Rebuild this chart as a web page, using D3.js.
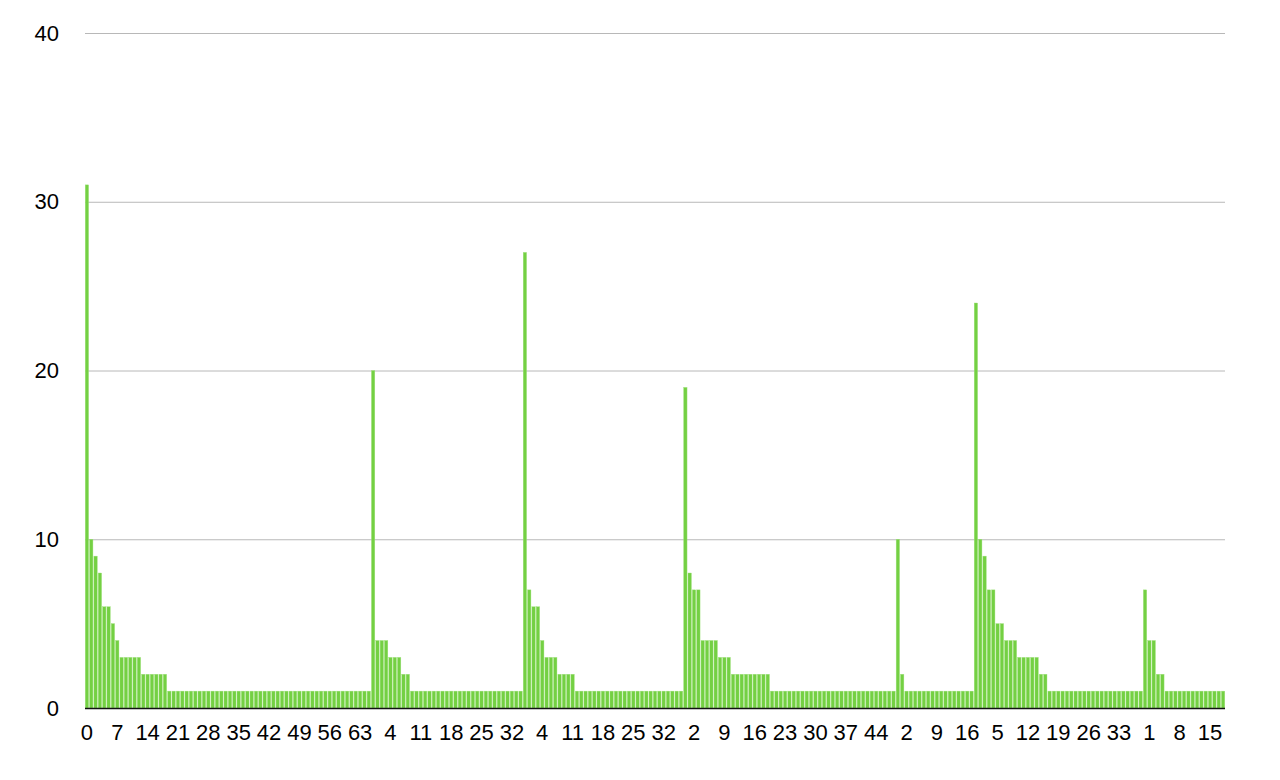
<!DOCTYPE html>
<html>
<head>
<meta charset="utf-8">
<script src="https://cdn.jsdelivr.net/npm/d3@7/dist/d3.min.js"></script>
<style>
  html, body { margin: 0; padding: 0; background: #ffffff; }
  svg { display: block; }
  text { font-family: "Liberation Sans", Arial, Helvetica, sans-serif; fill: #000; }
</style>
</head>
<body>
<svg id="chart" width="1280" height="780"></svg>
<script>
// ---- data: one array of values per group; category label = position within its group ----
const group1 = [31,10,9,8,6,6,5,4,3,3,
                3,3,3,2,2,2,2,2,2,1,
                1,1,1,1,1,1,1,1,1,1,
                1,1,1,1,1,1,1,1,1,1,
                1,1,1,1,1,1,1,1,1,1,
                1,1,1,1,1,1,1,1,1,1,
                1,1,1,1,1,1];
const group2 = [20,4,4,4,3,3,3,2,2,1,
                1,1,1,1,1,1,1,1,1,1,
                1,1,1,1,1,1,1,1,1,1,
                1,1,1,1,1];
const group3 = [27,7,6,6,4,3,3,3,2,2,
                2,2,1,1,1,1,1,1,1,1,
                1,1,1,1,1,1,1,1,1,1,
                1,1,1,1,1,1,1];
const group4 = [19,8,7,7,4,4,4,4,3,3,
                3,2,2,2,2,2,2,2,2,2,
                1,1,1,1,1,1,1,1,1,1,
                1,1,1,1,1,1,1,1,1,1,
                1,1,1,1,1,1,1,1,1];
const group5 = [10,2,1,1,1,1,1,1,1,1,
                1,1,1,1,1,1,1,1];
const group6 = [24,10,9,7,7,5,5,4,4,4,
                3,3,3,3,3,2,2,1,1,1,
                1,1,1,1,1,1,1,1,1,1,
                1,1,1,1,1,1,1,1,1];
const group7 = [7,4,4,2,2,1,1,1,1,1,
                1,1,1,1,1,1,1,1,1];
const groups = [group1, group2, group3, group4, group5, group6, group7];
const yTicks = [0, 10, 20, 30, 40];
const labelEvery = 7;

(function () {
  // flatten into bars: global index, local category label, value
  const bars = [];
  groups.forEach(g => g.forEach((v, i) => bars.push({ idx: bars.length, cat: String(i), value: v })));

  const svg = d3.select("#chart");
  const plotLeft = 85, plotRight = 1225, plotTop = 33, plotBottom = 708;

  const x = d3.scaleBand()
    .domain(bars.map(d => d.idx))
    .range([plotLeft, plotRight])
    .paddingInner(0.22)
    .paddingOuter(0.05);

  const y = d3.scaleLinear().domain([0, 40]).range([plotBottom, plotTop]);

  // gridlines
  svg.append("g")
    .selectAll("line")
    .data(yTicks.filter(t => t > 0))
    .join("line")
    .attr("x1", plotLeft).attr("x2", plotRight)
    .attr("y1", d => y(d) + 0.5).attr("y2", d => y(d) + 0.5)
    .attr("stroke", "#b8b8b8").attr("stroke-width", 1);

  // y axis labels
  const yAxis = d3.axisLeft(y).tickValues(yTicks).tickSize(0).tickPadding(0);
  const gy = svg.append("g").attr("transform", `translate(${plotLeft - 26},0)`).call(yAxis);
  gy.select(".domain").remove();
  gy.selectAll("text")
    .attr("font-size", 22)
    .attr("font-family", "Liberation Sans, Arial, sans-serif")
    .attr("fill", "#000");

  // bars
  svg.append("g")
    .selectAll("rect")
    .data(bars)
    .join("rect")
    .attr("x", d => x(d.idx))
    .attr("width", x.bandwidth())
    .attr("y", d => y(d.value))
    .attr("height", d => y(0) - y(d.value))
    .attr("fill", "#74d043")
    .attr("stroke", "#a0e27e")
    .attr("stroke-width", 0.4);

  // baseline
  svg.append("line")
    .attr("x1", plotLeft).attr("x2", plotRight)
    .attr("y1", y(0) + 0.5).attr("y2", y(0) + 0.5)
    .attr("stroke", "#111").attr("stroke-width", 1.6);

  // x axis labels: every 7th bar, labelled with its position inside its group
  const catByIdx = new Map(bars.map(d => [d.idx, d.cat]));
  const xAxis = d3.axisBottom(x)
    .tickValues(bars.filter(d => d.idx % labelEvery === 0).map(d => d.idx))
    .tickFormat(i => catByIdx.get(i))
    .tickSize(0)
    .tickPadding(16);
  const gx = svg.append("g").attr("transform", `translate(0,${plotBottom})`).call(xAxis);
  gx.select(".domain").remove();
  gx.selectAll("text")
    .attr("font-size", 22)
    .attr("font-family", "Liberation Sans, Arial, sans-serif")
    .attr("fill", "#000");
})();
</script>
</body>
</html>
